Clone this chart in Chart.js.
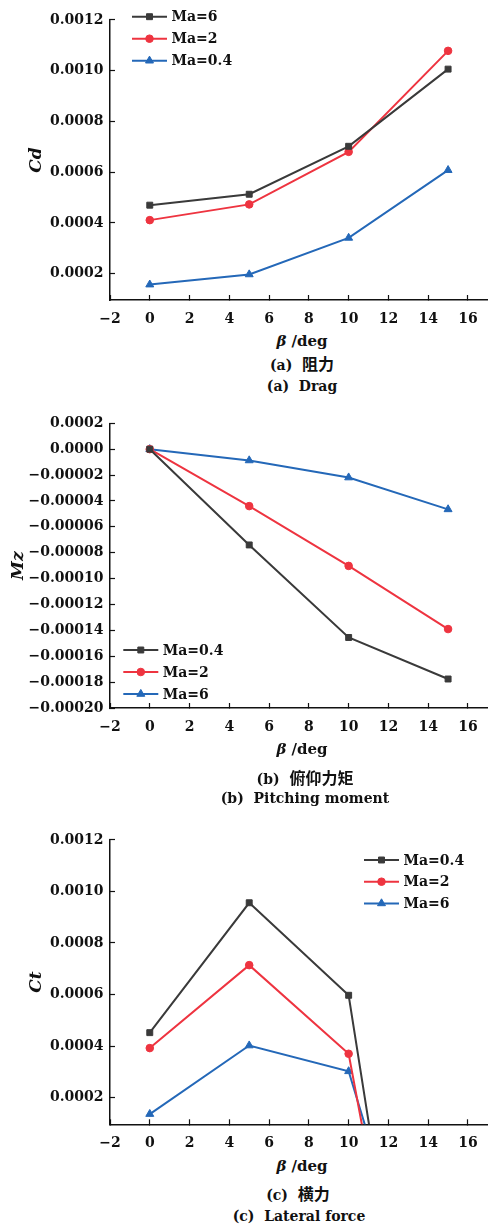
<!DOCTYPE html>
<html>
<head>
<meta charset="utf-8">
<script src="https://cdn.jsdelivr.net/npm/chart.js@4.4.1/dist/chart.umd.min.js"></script>
<style>
  body { margin: 0; background: #fff; }
  #wrap { position: relative; width: 494px; height: 1227px; overflow: hidden; }
  .panel { position: absolute; left: 0; width: 494px; }
  .txt { position: absolute; width: 300px; text-align: center; white-space: nowrap;
         font-family: "DejaVu Serif", serif; font-weight: bold; font-size: 14px; line-height: 20px; color: #111; }
  .cjk { font-family: "Noto Sans CJK SC", sans-serif; font-weight: 700; font-size: 16px; }
  .xt { font-size: 15px; }
</style>
</head>
<body>
<div id="wrap">
  <div class="panel" style="top:0"><canvas id="chartCd" width="494" height="330"></canvas></div>
  <div class="txt xt" style="left:152px;top:331px"><i>β</i> /deg</div>
  <div class="txt" style="left:152px;top:353px">(a)&nbsp; <span class="cjk">阻力</span></div>
  <div class="txt" style="left:152px;top:376px">(a)&nbsp; Drag</div>

  <div class="panel" style="top:400px"><canvas id="chartMz" width="494" height="340"></canvas></div>
  <div class="txt xt" style="left:152px;top:739px"><i>β</i> /deg</div>
  <div class="txt" style="left:155px;top:767px">(b)&nbsp; <span class="cjk">俯仰力矩</span></div>
  <div class="txt" style="left:155px;top:788px">(b)&nbsp; Pitching moment</div>

  <div class="panel" style="top:820px"><canvas id="chartCt" width="494" height="335"></canvas></div>
  <div class="txt xt" style="left:152px;top:1156px"><i>β</i> /deg</div>
  <div class="txt" style="left:148px;top:1183px">(c)&nbsp; <span class="cjk">横力</span></div>
  <div class="txt" style="left:149px;top:1206px">(c)&nbsp; Lateral force</div>
</div>

<script>
// sideslip angle (deg)
const betaDeg = [0, 5, 10, 15];
const xTicks = [-2, 0, 2, 4, 6, 8, 10, 12, 14, 16];

// (a) drag coefficient
const cdMa6 = [0.00047, 0.000513, 0.000702, 0.001006];
const cdMa2 = [0.000411, 0.000473, 0.00068, 0.001078];
const cdMa04 = [0.000157, 0.000197, 0.000341, 0.000608];
const cdTicks = [0.0002, 0.0004, 0.0006, 0.0008, 0.0010, 0.0012];

// (b) pitching moment
const mzMa04 = [0, -0.000074, -0.0001455, -0.0001776];
const mzMa2 = [0, -0.000044, -0.0000902, -0.000139];
const mzMa6 = [0, -0.0000087, -0.0000219, -0.0000465];
const mzTicks = [0.00002, 0, -0.00002, -0.00004, -0.00006, -0.00008, -0.0001, -0.00012, -0.00014, -0.00016, -0.00018, -0.0002];
const mzTickLabels = ['0.0002', '0.0000', '−0.00002', '−0.00004', '−0.00006', '−0.00008', '−0.00010',
                      '−0.00012', '−0.00014', '−0.00016', '−0.00018', '−0.00020'];

// (c) lateral force (last point runs off the bottom of the plot)
const ctMa04 = [0.000452, 0.000956, 0.000597, -0.00185];
const ctMa2 = [0.000392, 0.000714, 0.00037, -0.00169];
const ctMa6 = [0.000136, 0.000402, 0.000302, -0.00097];
const ctTicks = [0.0002, 0.0004, 0.0006, 0.0008, 0.0010, 0.0012];

const BLACK = '#3a3a3a';
const RED = '#ee3440';
const BLUE = '#2468b8';
const FONT = 'DejaVu Serif';

const styleOf = {
  black: { color: BLACK, pointStyle: 'rect', radius: 4.2 },
  red: { color: RED, pointStyle: 'circle', radius: 3.8 },
  blue: { color: BLUE, pointStyle: 'triangle', radius: 4.6 }
};

function serie(label, values, st) {
  const s = styleOf[st];
  return {
    label: label,
    data: betaDeg.map((b, i) => ({ x: b, y: values[i] })),
    borderColor: s.color,
    backgroundColor: s.color,
    borderWidth: 2,
    pointStyle: s.pointStyle,
    pointRadius: s.radius,
    pointBorderWidth: 1,
    tension: 0
  };
}

// legend drawn as line + marker + text, like the original plot
const lineLegend = {
  id: 'lineLegend',
  afterDraw(chart, args, opts) {
    const ctx = chart.ctx;
    ctx.save();
    chart.data.datasets.forEach((ds, i) => {
      const y = opts.y + i * opts.dy;
      ctx.strokeStyle = ds.borderColor;
      ctx.fillStyle = ds.backgroundColor;
      ctx.lineWidth = 2;
      ctx.beginPath();
      ctx.moveTo(opts.x, y);
      ctx.lineTo(opts.x + opts.len, y);
      ctx.stroke();
      ctx.lineWidth = 1;
      Chart.helpers.drawPoint(ctx, { pointStyle: ds.pointStyle, radius: ds.pointRadius, rotation: 0, borderWidth: 1 },
        opts.x + opts.len / 2, y);
      ctx.fillStyle = '#111';
      ctx.font = 'bold 14px "' + FONT + '"';
      ctx.textBaseline = 'middle';
      ctx.textAlign = 'left';
      ctx.fillText(ds.label, opts.x + opts.len + 4.5, y + 1);
    });
    ctx.restore();
  }
};

function makeChart(id, datasets, cfg) {
  const ctx = document.getElementById(id).getContext('2d');
  return new Chart(ctx, {
    type: 'line',
    data: { datasets: datasets },
    options: {
      responsive: false,
      animation: false,
      layout: { padding: { top: cfg.top, right: 0, bottom: 0, left: 0 } },
      scales: {
        x: {
          type: 'linear',
          min: -2,
          max: 17,
          afterBuildTicks: s => { s.ticks = xTicks.map(v => ({ value: v })); },
          afterFit: s => { s.height = cfg.xh; },
          border: { color: '#111', width: 1.5 },
          grid: { drawOnChartArea: false, drawTicks: true, tickLength: -5, tickWidth: 1.2, tickColor: '#111' },
          ticks: {
            padding: 16,
            color: '#111',
            font: { family: FONT, size: 14, weight: 'bold' },
            callback: v => String(v).replace('-', '−')
          }
        },
        y: {
          type: 'linear',
          min: cfg.min,
          max: cfg.max,
          afterBuildTicks: s => { s.ticks = cfg.ticks.map(v => ({ value: v })); },
          afterFit: s => { s.width = 110; },
          border: { color: '#111', width: 1.5 },
          grid: { drawOnChartArea: false, drawTicks: true, tickLength: -5, tickWidth: 1.2, tickColor: '#111' },
          ticks: {
            padding: 11.5,
            color: '#111',
            font: { family: FONT, size: 14, weight: 'bold' },
            callback: cfg.fmt
          },
          title: {
            display: true,
            text: cfg.title,
            color: '#111',
            padding: { top: cfg.titlePad, bottom: 0 },
            font: { family: FONT, size: 17, weight: 'bold', style: 'italic' }
          }
        }
      },
      plugins: {
        legend: { display: false },
        tooltip: { enabled: false },
        lineLegend: cfg.legend
      }
    },
    plugins: [lineLegend]
  });
}

makeChart('chartCd', [
  serie('Ma=6', cdMa6, 'black'),
  serie('Ma=2', cdMa2, 'red'),
  serie('Ma=0.4', cdMa04, 'blue')
], {
  top: 15.7, xh: 30, min: 0.0000963, max: 0.0012, ticks: cdTicks,
  fmt: v => v.toFixed(4), title: 'Cd', titlePad: 26.5,
  legend: { x: 132, y: 16.7, dy: 22, len: 35 }
});

makeChart('chartMz', [
  serie('Ma=0.4', mzMa04, 'black'),
  serie('Ma=2', mzMa2, 'red'),
  serie('Ma=6', mzMa6, 'blue')
], {
  top: 23.3, xh: 32, min: -0.0002, max: 0.00002, ticks: mzTicks,
  fmt: (v, i) => mzTickLabels[i], title: 'Mz', titlePad: 8.5,
  legend: { x: 123.3, y: 250, dy: 22, len: 35 }
});

makeChart('chartCt', [
  serie('Ma=0.4', ctMa04, 'black'),
  serie('Ma=2', ctMa2, 'red'),
  serie('Ma=6', ctMa6, 'blue')
], {
  top: 19.3, xh: 30.7, min: 0.0000963, max: 0.0012, ticks: ctTicks,
  fmt: v => v.toFixed(4), title: 'Ct', titlePad: 26.5,
  legend: { x: 364, y: 40, dy: 21.7, len: 35 }
});
</script>
</body>
</html>
